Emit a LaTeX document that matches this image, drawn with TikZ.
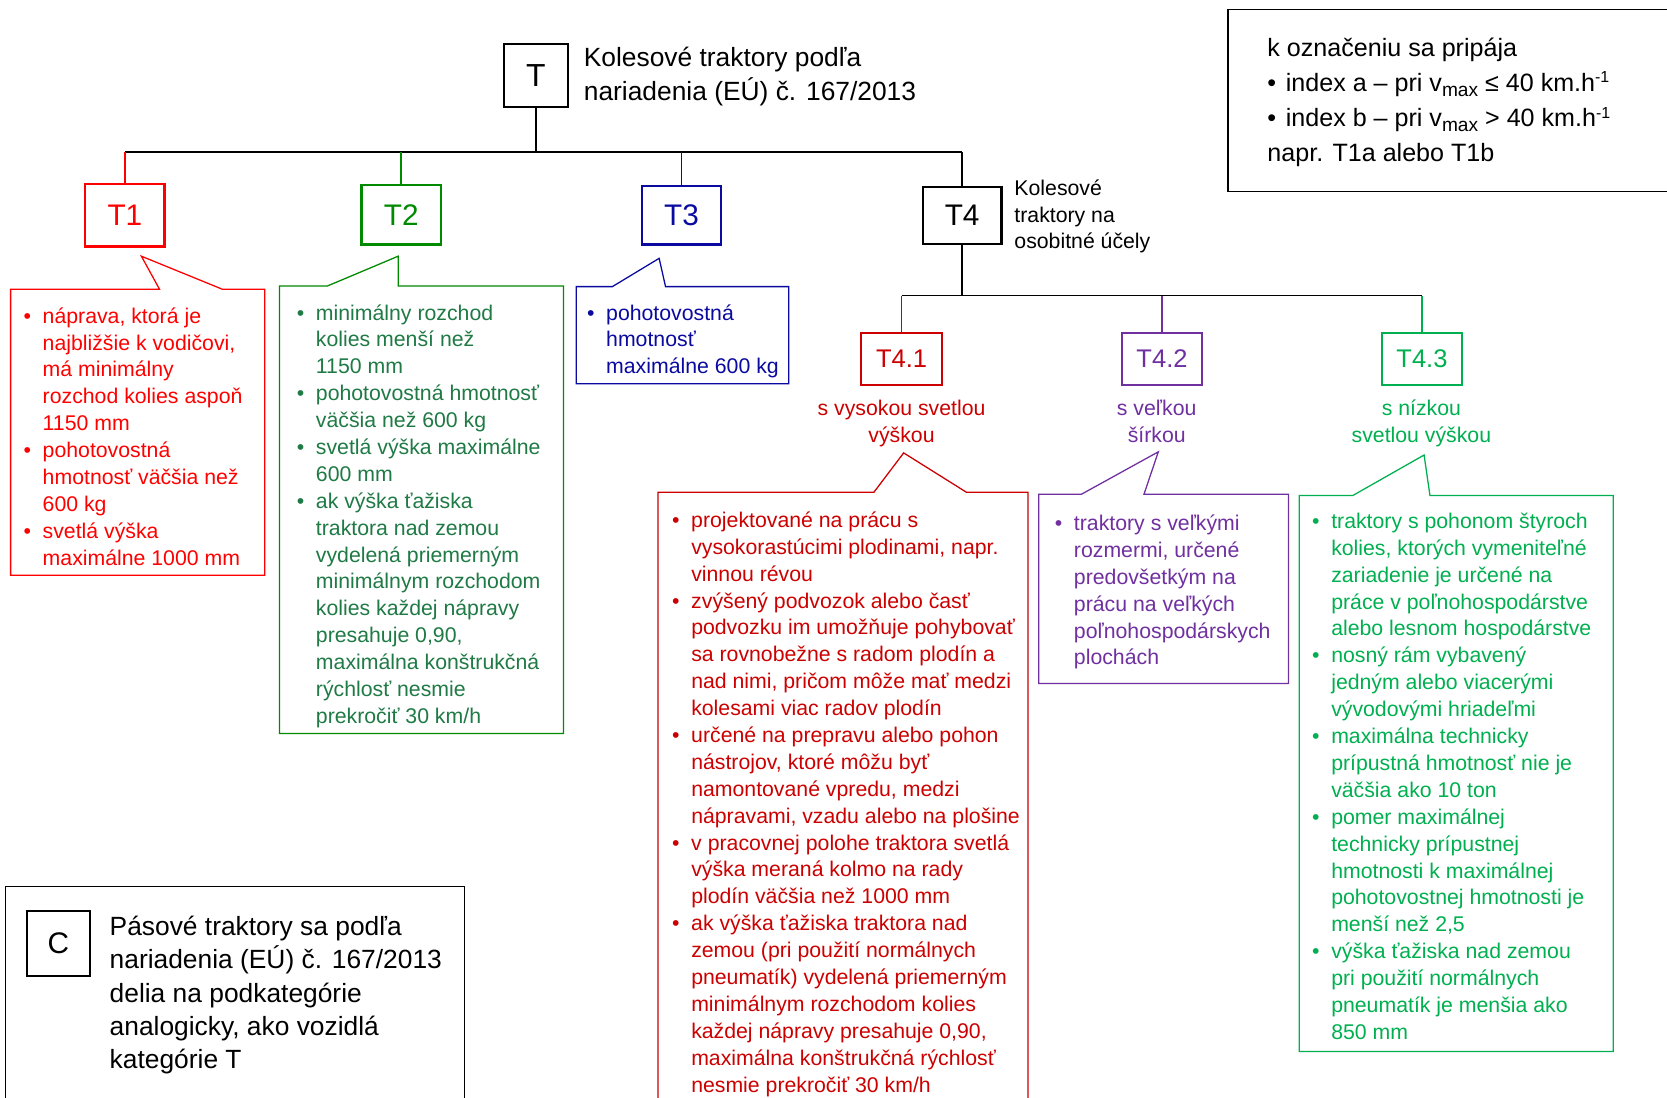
\documentclass[tikz,border=0pt]{standalone}
\usepackage{fontspec}
\setmainfont{Liberation Sans}
\definecolor{cRed}{HTML}{FF0000}
\definecolor{cGreen}{HTML}{008A00}
\definecolor{cGreenTxt}{HTML}{1F7A45}
\definecolor{cBlue}{HTML}{0A0AA0}
\definecolor{cDRed}{HTML}{CC0000}
\definecolor{cPurple}{HTML}{7030A0}
\definecolor{cLGreen}{HTML}{00B050}
\newcommand\bitem{\makebox[18pt][l]{•}}
\newcommand\bcont{\hspace*{18pt}}
\newcommand\vsub[1]{\raisebox{-4.5pt}{\fontsize{18}{18}\selectfont #1}}
\newcommand\vsup[1]{\raisebox{8pt}{\fontsize{15}{15}\selectfont #1}}
\tikzset{
  catbox/.style={draw, line width=2, inner sep=0, font=\fontsize{28}{28}\selectfont},
  subbox/.style={draw, line width=2, inner sep=0, minimum width=76, minimum height=49, font=\fontsize{24}{24}\selectfont},
  bodytxt/.style={anchor=base west, inner sep=0, font=\fontsize{20}{25.3}\selectfont},
  lbltxt/.style={anchor=base, inner sep=0, font=\fontsize{20}{25}\selectfont},
  callout/.style={line width=1.2},
  conn/.style={line width=1.6},
}
\begin{document}
\begin{tikzpicture}[x=1pt,y=-1pt]
\clip (0,0) rectangle (1568,1032);
\fill[white] (0,0) rectangle (1568,1032);

% top node
\node[catbox, minimum width=60, minimum height=60, font=\fontsize{30}{30}\selectfont] (T) at (504,71) {T};
\node[anchor=base west, inner sep=0] (Ttitle) at (549,62.5) {\parbox[t]{400pt}{\raggedright\fontsize{24.8}{32}\selectfont Kolesové traktory podľa\\ nariadenia (EÚ) č. 167/2013}};

% category boxes
\node[catbox, cRed, line width=2.5, minimum width=75, minimum height=59] (T1) at (117.5,202.5) {T1};
\node[catbox, cGreen, minimum width=75, minimum height=56] (T2) at (377.5,202) {T2};
\node[catbox, cBlue, minimum width=75, minimum height=55] (T3) at (641,202.5) {T3};
\node[catbox, black, minimum width=74, minimum height=54] (T4) at (905,202.5) {T4};
\node[anchor=base west, inner sep=0] (T4lbl) at (954,184) {\parbox[t]{200pt}{\raggedright\fontsize{20}{25}\selectfont Kolesové\\ traktory na\\ osobitné účely}};

% connectors level 1
\coordinate (bus) at (504,143);
\draw[conn] (T.south) -- (bus);
\draw[conn] (T1.north |- bus) -- (T4.north |- bus);
\draw[conn, cRed] (T1.north |- bus) -- (T1.north);
\draw[conn, cGreen] (T2.north |- bus) -- (T2.north);
\draw[conn, cBlue] (T3.north |- bus) -- (T3.north);
\draw[conn] (T4.north |- bus) -- (T4.north);

% sub boxes
\node[subbox, cDRed] (T41) at (848,337.5) {T4.1};
\node[subbox, cPurple] (T42) at (1093,337.5) {T4.2};
\node[subbox, cLGreen] (T43) at (1337.5,337.5) {T4.3};
\coordinate (bus2) at (905,278);
\draw[conn] (T4.south) -- (bus2);
\draw[conn] (T41.north |- bus2) -- (T43.north |- bus2);
\draw[conn, cDRed] (T41.north |- bus2) -- (T41.north);
\draw[conn, cPurple] (T42.north |- bus2) -- (T42.north);
\draw[conn, cLGreen] (T43.north |- bus2) -- (T43.north);

\node[lbltxt, cDRed] (L41) at (848,391) {\parbox[t]{220pt}{\centering s vysokou svetlou\\ výškou}};
\node[lbltxt, cPurple] (L42) at (1088,391) {\parbox[t]{220pt}{\centering s veľkou\\ šírkou}};
\node[lbltxt, cLGreen] (L43) at (1337,391) {\parbox[t]{220pt}{\centering s nízkou\\ svetlou výškou}};

% callouts
\draw[callout, cRed] (10,272) -- (150,272) -- (133,241) -- (209,272) -- (249,272) -- (249,541) -- (10,541) -- cycle;
\draw[callout, cGreen] (263,269) -- (308,269) -- (374.5,241) -- (374.5,269) -- (530,269) -- (530,690) -- (263,690) -- cycle;
\draw[callout, cBlue] (542,269.6) -- (576,269.6) -- (620,243) -- (626,269.6) -- (742,269.6) -- (742,361) -- (542,361) -- cycle;
\draw[callout, cDRed] (619,463) -- (822,463) -- (850,426) -- (909,463) -- (967,463) -- (967,1045) -- (619,1045) -- cycle;
\draw[callout, cPurple] (977,465) -- (1017,465) -- (1089.5,425) -- (1076,465) -- (1212,465) -- (1212,643) -- (977,643) -- cycle;
\draw[callout, cLGreen] (1222,466) -- (1272.6,466) -- (1339.5,428) -- (1345,466) -- (1517.5,466) -- (1517.5,989) -- (1222,989) -- cycle;

% callout texts
\node[bodytxt, cRed] (t1txt) at (22,304) {\parbox[t]{400pt}{\raggedright
\bitem náprava, ktorá je\\ \bcont najbližšie k vodičovi,\\ \bcont má minimálny\\ \bcont rozchod kolies aspoň\\ \bcont 1150 mm\\
\bitem pohotovostná\\ \bcont hmotnosť väčšia než\\ \bcont 600 kg\\
\bitem svetlá výška\\ \bcont maximálne 1000 mm}};

\node[bodytxt, cGreenTxt] (t2txt) at (279,301) {\parbox[t]{400pt}{\raggedright
\bitem minimálny rozchod\\ \bcont kolies menší než\\ \bcont 1150 mm\\
\bitem pohotovostná hmotnosť\\ \bcont väčšia než 600 kg\\
\bitem svetlá výška maximálne\\ \bcont 600 mm\\
\bitem ak výška ťažiska\\ \bcont traktora nad zemou\\ \bcont vydelená priemerným\\ \bcont minimálnym rozchodom\\ \bcont kolies každej nápravy\\ \bcont presahuje 0,90,\\ \bcont maximálna konštrukčná\\ \bcont rýchlosť nesmie\\ \bcont prekročiť 30 km/h}};

\node[bodytxt, cBlue] (t3txt) at (552,301) {\parbox[t]{400pt}{\raggedright
\bitem pohotovostná\\ \bcont hmotnosť\\ \bcont maximálne 600 kg}};

\node[bodytxt, cDRed] (t41txt) at (632,496) {\parbox[t]{400pt}{\raggedright
\bitem projektované na prácu s\\ \bcont vysokorastúcimi plodinami, napr.\\ \bcont vinnou révou\\
\bitem zvýšený podvozok alebo časť\\ \bcont podvozku im umožňuje pohybovať\\ \bcont sa rovnobežne s radom plodín a\\ \bcont nad nimi, pričom môže mať medzi\\ \bcont kolesami viac radov plodín\\
\bitem určené na prepravu alebo pohon\\ \bcont nástrojov, ktoré môžu byť\\ \bcont namontované vpredu, medzi\\ \bcont nápravami, vzadu alebo na plošine\\
\bitem v pracovnej polohe traktora svetlá\\ \bcont výška meraná kolmo na rady\\ \bcont plodín väčšia než 1000 mm\\
\bitem ak výška ťažiska traktora nad\\ \bcont zemou (pri použití normálnych\\ \bcont pneumatík) vydelená priemerným\\ \bcont minimálnym rozchodom kolies\\ \bcont každej nápravy presahuje 0,90,\\ \bcont maximálna konštrukčná rýchlosť\\ \bcont nesmie prekročiť 30 km/h}};

\node[bodytxt, cPurple] (t42txt) at (992,499) {\parbox[t]{400pt}{\raggedright
\bitem traktory s veľkými\\ \bcont rozmermi, určené\\ \bcont predovšetkým na\\ \bcont prácu na veľkých\\ \bcont poľnohospodárskych\\ \bcont plochách}};

\node[bodytxt, cLGreen] (t43txt) at (1234,497) {\parbox[t]{400pt}{\raggedright
\bitem traktory s pohonom štyroch\\ \bcont kolies, ktorých vymeniteľné\\ \bcont zariadenie je určené na\\ \bcont práce v poľnohospodárstve\\ \bcont alebo lesnom hospodárstve\\
\bitem nosný rám vybavený\\ \bcont jedným alebo viacerými\\ \bcont vývodovými hriadeľmi\\
\bitem maximálna technicky\\ \bcont prípustná hmotnosť nie je\\ \bcont väčšia ako 10 ton\\
\bitem pomer maximálnej\\ \bcont technicky prípustnej\\ \bcont hmotnosti k maximálnej\\ \bcont pohotovostnej hmotnosti je\\ \bcont menší než 2,5\\
\bitem výška ťažiska nad zemou\\ \bcont pri použití normálnych\\ \bcont pneumatík je menšia ako\\ \bcont 850 mm}};

% top-right info box
\draw[line width=1.5] (1155,9) rectangle (1580,180);
\node[anchor=base west, inner sep=0] (info) at (1192,53) {\parbox[t]{400pt}{\raggedright\fontsize{23.6}{33}\selectfont
k označeniu sa pripája\\
•\hspace{9pt}index a – pri v\vsub{max} ≤ 40 km.h\vsup{-1}\\
•\hspace{9pt}index b – pri v\vsub{max} > 40 km.h\vsup{-1}\\
napr. T1a alebo T1b}};

% bottom-left box
\draw[line width=1.5] (5,834) rectangle (437,1045);
\node[catbox, minimum width=60, minimum height=61] (C) at (55,887.5) {C};
\node[anchor=base west, inner sep=0] (Ctxt) at (103,879.5) {\parbox[t]{400pt}{\raggedright\fontsize{24.8}{31.5}\selectfont
Pásové traktory sa podľa\\ nariadenia (EÚ) č. 167/2013\\ delia na podkategórie\\ analogicky, ako vozidlá\\ kategórie T}};
\end{tikzpicture}
\end{document}
